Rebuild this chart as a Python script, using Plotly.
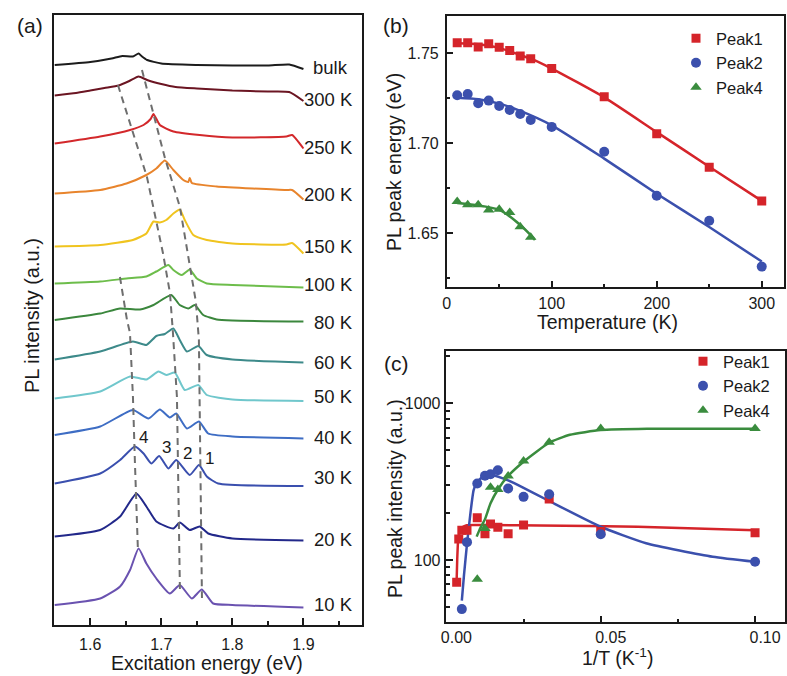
import plotly.graph_objects as go

W, H = 787, 676
FONT = "Arial, Liberation Sans, Helvetica, sans-serif"
INK = "#1a1a1a"

# ---------------- panel (a): PL spectra (stacked, a.u.) ----------------
spec_names = ["bulk", "300 K", "250 K", "200 K", "150 K", "100 K", "80 K",
              "60 K", "50 K", "40 K", "30 K", "20 K", "10 K"]
spec_colors = ["#1c1c1c", "#6b1522", "#d3282b", "#e8842c", "#f0c41f", "#6dbd4b",
               "#3b873d", "#3d8a8a", "#70c7cc", "#3e6dc4", "#3a4fae", "#22288a", "#6a52b0"]

e_bulk = [1.55, 1.60, 1.63, 1.645, 1.66, 1.668, 1.672, 1.68, 1.70, 1.75, 1.80, 1.85, 1.88, 1.90]
i_bulk = [560, 563, 566.5, 569, 568.5, 571.5, 569, 565, 561.5, 560, 559.5, 559.5, 560.5, 556]
e_300 = [1.55, 1.58, 1.60, 1.62, 1.64, 1.655, 1.668, 1.68, 1.70, 1.72, 1.75, 1.80, 1.85, 1.88, 1.90]
i_300 = [529.5, 532, 534.5, 537, 539.5, 544, 548.5, 545, 541, 538, 536.5, 534.5, 533.5, 533, 524]
e_250 = [1.55, 1.614, 1.656, 1.675, 1.685, 1.689, 1.698, 1.717, 1.754, 1.80, 1.876, 1.884, 1.90]
i_250 = [481.5, 488.5, 495, 500, 506, 511, 500, 493.5, 490, 487.5, 488.5, 490, 476.5]
e_200 = [1.55, 1.614, 1.651, 1.679, 1.693, 1.705, 1.717, 1.731, 1.738, 1.740, 1.743, 1.778, 1.876, 1.884, 1.90]
i_200 = [431.5, 435, 441.5, 450, 456.5, 464.5, 455, 445, 443, 447, 442, 438.5, 435, 435, 425.5]
e_150 = [1.55, 1.614, 1.66, 1.679, 1.689, 1.698, 1.707, 1.717, 1.726, 1.733, 1.745, 1.764, 1.80, 1.876, 1.884, 1.90]
i_150 = [378.5, 380, 385, 391.5, 403.5, 402.5, 405, 411.5, 415.5, 405, 390, 385, 381.5, 380.5, 382, 371.5]
e_100 = [1.55, 1.614, 1.651, 1.679, 1.693, 1.71, 1.717, 1.729, 1.74, 1.75, 1.764, 1.80, 1.90]
i_100 = [341.5, 343.5, 346.5, 348.5, 353.5, 360, 355, 350, 355.5, 346.5, 341.5, 340, 337.5]
e_80 = [1.55, 1.614, 1.642, 1.67, 1.689, 1.714, 1.726, 1.738, 1.747, 1.759, 1.778, 1.80, 1.90]
i_80 = [305, 311.5, 316.5, 315.5, 320, 330, 320, 316.5, 320, 310, 305.5, 304.5, 303.5]
e_60 = [1.55, 1.614, 1.66, 1.679, 1.693, 1.705, 1.717, 1.726, 1.736, 1.752, 1.764, 1.80, 1.90]
i_60 = [265.5, 273.5, 283.5, 280, 289, 291, 296.5, 285, 273.5, 279, 270, 265.5, 262.5]
e_50 = [1.55, 1.614, 1.656, 1.679, 1.696, 1.707, 1.719, 1.733, 1.752, 1.764, 1.80, 1.90]
i_50 = [226.5, 233.5, 248.5, 245.5, 253.5, 250, 252.5, 235, 240, 230, 225.5, 224]
e_40 = [1.55, 1.614, 1.66, 1.682, 1.698, 1.712, 1.721, 1.736, 1.753, 1.766, 1.80, 1.90]
i_40 = [190, 198.5, 215, 206.5, 215.5, 207.5, 211.5, 196.5, 203.5, 191.5, 188.5, 186.5]
e_30 = [1.55, 1.614, 1.642, 1.663, 1.675, 1.686, 1.697, 1.71, 1.721, 1.74, 1.753, 1.764, 1.78, 1.90]
i_30 = [141.5, 151.5, 165, 178.5, 171.5, 161.5, 169, 156.5, 165, 150, 160, 148.5, 141.5, 139]
e_20 = [1.55, 1.614, 1.642, 1.665, 1.679, 1.693, 1.717, 1.726, 1.74, 1.754, 1.766, 1.80, 1.90]
i_20 = [88.5, 95, 108.5, 131.5, 118.5, 103.5, 96.5, 102.5, 95, 98.5, 91.5, 86.5, 84.5]
e_10 = [1.55, 1.614, 1.642, 1.656, 1.668, 1.679, 1.693, 1.712, 1.726, 1.743, 1.757, 1.773, 1.80, 1.90]
i_10 = [20, 26.5, 38.5, 55, 76.5, 61.5, 46.5, 31.5, 40, 26.5, 35.5, 21.5, 20, 17.5]

spec_e = [e_bulk, e_300, e_250, e_200, e_150, e_100, e_80, e_60, e_50, e_40, e_30, e_20, e_10]
spec_i = [i_bulk, i_300, i_250, i_200, i_150, i_100, i_80, i_60, i_50, i_40, i_30, i_20, i_10]
label_level = [557, 525, 477, 430, 378, 340, 302, 262, 228, 187, 147, 86, 21]

# dashed guides following peaks 1, 2 and 4
guide1_e = [1.6728, 1.6868, 1.7051, 1.7262, 1.7403, 1.7487, 1.7529, 1.7543, 1.7557, 1.7572]
guide1_i = [555, 517, 467, 418, 360, 323, 285, 205, 105, 27]
guide2_e = [1.639, 1.660, 1.6798, 1.7023, 1.7122, 1.7164, 1.722, 1.7262]
guide2_i = [540, 492, 448, 372, 332, 292, 228, 35]
guide4_e = [1.6418, 1.6517, 1.6559, 1.6601, 1.6629, 1.6671]
guide4_i = [348, 305, 292, 228, 162, 75]

peak_tags = ["4", "3", "2", "1"]
peak_tag_e = [1.6749, 1.7068, 1.7363, 1.7674]
peak_tag_i = [187.5, 177.5, 171.7, 166.7]

# ---------------- panel (b): peak energy vs T ----------------
temp = [10, 20, 30, 40, 50, 60, 70, 80, 100, 150, 200, 250, 300]
peak1_E = [1.7559, 1.7559, 1.7535, 1.7553, 1.7533, 1.7515, 1.7485, 1.7470, 1.7415, 1.7259, 1.7053, 1.6867, 1.6680]
peak2_E = [1.7267, 1.7274, 1.7222, 1.7237, 1.7207, 1.7185, 1.7163, 1.7130, 1.7091, 1.6953, 1.6709, 1.6570, 1.6315]
temp4 = [10, 20, 30, 40, 50, 60, 70, 80]
peak4_E = [1.6676, 1.6659, 1.6659, 1.6630, 1.6633, 1.6615, 1.6537, 1.6478]

fit1_T = [10, 30, 50, 70, 80, 100, 150, 200, 250, 300]
fit1_E = [1.7555, 1.7550, 1.7530, 1.7490, 1.7470, 1.7415, 1.7255, 1.7062, 1.6870, 1.6680]
fit2_T = [10, 30, 50, 70, 100, 150, 200, 250, 300]
fit2_E = [1.7253, 1.7245, 1.7220, 1.7180, 1.7100, 1.6915, 1.6720, 1.6535, 1.6343]
fit4_T = [10, 30, 50, 60, 70, 80, 84]
fit4_E = [1.6668, 1.6655, 1.6630, 1.6594, 1.6546, 1.6490, 1.6463]

# ---------------- panel (c): peak intensity vs 1/T ----------------
invT1 = [0.00333, 0.004, 0.005, 0.00667, 0.01, 0.0125, 0.01429, 0.01667, 0.02, 0.025, 0.0333, 0.05, 0.1]
inten1 = [72, 136, 155, 155, 186, 147, 170, 162, 147, 167, 245, 152, 149]
invT2 = [0.005, 0.00667, 0.01, 0.0125, 0.01429, 0.01667, 0.02, 0.025, 0.0333, 0.05, 0.1]
inten2 = [48.6, 130, 308, 345, 353, 374, 286, 253, 263, 146, 97.5]
invT4 = [0.01, 0.0125, 0.01429, 0.01667, 0.02, 0.025, 0.0333, 0.05, 0.1]
inten4 = [75.4, 159, 291, 282, 344, 428, 564, 692, 692]

cfit1_x = [0.0033, 0.0035, 0.0038, 0.0042, 0.0046, 0.0055, 0.0066, 0.015, 0.03, 0.062, 0.1]
cfit1_y = [72, 100, 134, 148, 155, 163, 167, 167, 166, 163, 155]
cfit2_x = [0.0050, 0.0057, 0.0067, 0.0078, 0.0088, 0.0097, 0.0110, 0.0125, 0.0150, 0.0200, 0.0250, 0.0333, 0.0500, 0.0647, 0.0863, 0.1]
cfit2_y = [55, 80, 128, 200, 278, 308, 330, 345, 348, 322, 289, 238, 163, 128, 105, 97.5]
cfit4_x = [0.0098, 0.0110, 0.0125, 0.0143, 0.0167, 0.0200, 0.0250, 0.0333, 0.0400, 0.0500, 0.0650, 0.1]
cfit4_y = [141, 160, 182, 230, 282, 344, 424, 560, 630, 675, 688, 688]

RED, BLUE, GREEN = "#d5242a", "#3b50ad", "#3a8c3e"

fig = go.Figure()

# (a)
for e, i, c in zip(spec_e, spec_i, spec_colors):
    fig.add_trace(go.Scatter(x=e, y=i, mode="lines",
                             line=dict(color=c, width=2, shape="spline", smoothing=0.5),
                             xaxis="x", yaxis="y", showlegend=False, hoverinfo="skip"))
for ge, gi in [(guide1_e, guide1_i), (guide2_e, guide2_i), (guide4_e, guide4_i)]:
    fig.add_trace(go.Scatter(x=ge, y=gi, mode="lines",
                             line=dict(color="#6e6e6e", width=2, dash="7px,5px"),
                             xaxis="x", yaxis="y", showlegend=False, hoverinfo="skip"))

# (b)
for tx, ty, c in [(fit1_T, fit1_E, RED), (fit2_T, fit2_E, BLUE), (fit4_T, fit4_E, GREEN)]:
    fig.add_trace(go.Scatter(x=tx, y=ty, mode="lines", line=dict(color=c, width=2.5, shape="spline", smoothing=0.6),
                             xaxis="x2", yaxis="y2", showlegend=False, hoverinfo="skip"))
for tx, ty, c, sym, nm in [(temp, peak1_E, RED, "square", "Peak1"),
                           (temp, peak2_E, BLUE, "circle", "Peak2"),
                           (temp4, peak4_E, GREEN, "triangle-up", "Peak4")]:
    fig.add_trace(go.Scatter(x=tx, y=ty, mode="markers", name=nm,
                             marker=dict(color=c, symbol=sym, size=10 if sym != "square" else 9),
                             xaxis="x2", yaxis="y2", legend="legend"))

# (c)
for tx, ty, c in [(cfit1_x, cfit1_y, RED), (cfit2_x, cfit2_y, BLUE), (cfit4_x, cfit4_y, GREEN)]:
    fig.add_trace(go.Scatter(x=tx, y=ty, mode="lines", line=dict(color=c, width=2.5, shape="spline", smoothing=0.5),
                             xaxis="x3", yaxis="y3", showlegend=False, hoverinfo="skip"))
for tx, ty, c, sym, nm in [(invT1, inten1, RED, "square", "Peak1"),
                           (invT2, inten2, BLUE, "circle", "Peak2"),
                           (invT4, inten4, GREEN, "triangle-up", "Peak4")]:
    fig.add_trace(go.Scatter(x=tx, y=ty, mode="markers", name=nm,
                             marker=dict(color=c, symbol=sym, size=10 if sym != "square" else 9),
                             xaxis="x3", yaxis="y3", legend="legend2"))


def px_x(p):
    return p / W


def px_y(p):
    return 1 - p / H


tickfont = dict(family=FONT, size=16, color=INK)
common = dict(showline=True, mirror=True, linecolor=INK, linewidth=1.5, showgrid=False,
              zeroline=False, ticks="inside", ticklen=7, tickwidth=1.5, tickcolor=INK,
              tickfont=tickfont, automargin=False)

fig.update_layout(
    width=W, height=H, margin=dict(l=0, r=0, t=0, b=0, autoexpand=False),
    paper_bgcolor="white", plot_bgcolor="white",
    font=dict(family=FONT, color=INK),
    xaxis=dict(domain=[px_x(54), px_x(361.7)], range=[1.549, 1.982], anchor="y",
               tick0=1.6, dtick=0.1, tickformat=".1f", ticklabelstandoff=4,
               minor=dict(ticks="inside", ticklen=4, tickwidth=1.5, tickcolor=INK, tick0=1.6, dtick=0.05),
               **common),
    yaxis=dict(domain=[px_y(625), px_y(15)], range=[0, 610], anchor="x",
               showticklabels=False, showline=True, mirror=True, linecolor=INK, linewidth=1.5,
               showgrid=False, zeroline=False, ticks="", automargin=False),
    xaxis2=dict(domain=[px_x(446.7), px_x(784)], range=[0, 321.2], anchor="y2",
                tick0=0, dtick=100, ticklabelstandoff=1,
                minor=dict(ticks="inside", ticklen=4, tickwidth=1.5, tickcolor=INK, tick0=0, dtick=50),
                **common),
    yaxis2=dict(domain=[px_y(287.3), px_y(16)], range=[1.620, 1.7707], anchor="x2",
                tickvals=[1.65, 1.70, 1.75], tickformat=".2f", ticklabelstandoff=3,
                minor=dict(ticks="inside", ticklen=4, tickwidth=1.5, tickcolor=INK, tick0=1.625, dtick=0.05),
                **common),
    xaxis3=dict(domain=[px_x(446.4), px_x(785)], range=[0, 0.1097], anchor="y3",
                tickvals=[0, 0.05, 0.1], tickformat=".2f", ticklabelstandoff=0, ticklabelshift=10,
                minor=dict(ticks="inside", ticklen=4, tickwidth=1.5, tickcolor=INK, tick0=0.025, dtick=0.05),
                **common),
    yaxis3=dict(domain=[px_y(622.3), px_y(351)], type="log", range=[1.6024, 3.334], anchor="x3",
                tickvals=[100, 1000], ticktext=["100", "1000"], ticklabelstandoff=1,
                minor=dict(ticks="inside", ticklen=4, tickwidth=1.5, tickcolor=INK,
                           tickvals=[50, 60, 70, 80, 90, 200, 300, 400, 500, 600, 700, 800, 900, 2000]),
                **common),
    legend=dict(x=px_x(676), y=px_y(21), xanchor="left", yanchor="top",
                bgcolor="rgba(0,0,0,0)", font=dict(family=FONT, size=16.5, color=INK),
                itemwidth=30, tracegroupgap=0),
    legend2=dict(x=px_x(683), y=px_y(344), xanchor="left", yanchor="top",
                 bgcolor="rgba(0,0,0,0)", font=dict(family=FONT, size=16.5, color=INK),
                 itemwidth=30, tracegroupgap=0),
)

ann = []
# temperature labels
for name, lvl in zip(spec_names, label_level):
    if name == "bulk":
        ann.append(dict(x=1.9105, y=lvl, xref="x", yref="y", text=name, showarrow=False,
                        xanchor="left", yanchor="middle", font=dict(family=FONT, size=18.5, color=INK)))
    else:
        ann.append(dict(x=1.9723, y=lvl, xref="x", yref="y", text=name, showarrow=False,
                        xanchor="right", yanchor="middle", font=dict(family=FONT, size=18.5, color=INK)))
for t, e, i in zip(peak_tags, peak_tag_e, peak_tag_i):
    ann.append(dict(x=e, y=i, xref="x", yref="y", text=t, showarrow=False,
                    xanchor="center", yanchor="middle", font=dict(family=FONT, size=17, color=INK)))


# titles / panel letters
def txt(xp, yp, s, size, angle=0):
    ann.append(dict(x=px_x(xp), y=px_y(yp), xref="paper", yref="paper", text=s, showarrow=False,
                    xanchor="center", yanchor="middle", textangle=angle,
                    font=dict(family=FONT, size=size, color=INK)))


txt(30, 25, "(a)", 21)
txt(396, 25, "(b)", 21)
txt(396, 363, "(c)", 21)
txt(207, 663, "Excitation energy (eV)", 19.5)
txt(32, 316, "PL intensity (a.u.)", 20, -90)
txt(607, 322, "Temperature (K)", 19.5)
txt(394, 162, "PL peak energy (eV)", 19.5, -90)
txt(617, 657, "1/T (K<sup>-1</sup>)", 19.5)
txt(395, 498, "PL peak intensity (a.u.)", 19.5, -90)

fig.update_layout(annotations=ann)
fig.write_html("out.html", config={"displayModeBar": False},
               post_script="document.body.style.margin='0';document.body.style.overflow='hidden';")
